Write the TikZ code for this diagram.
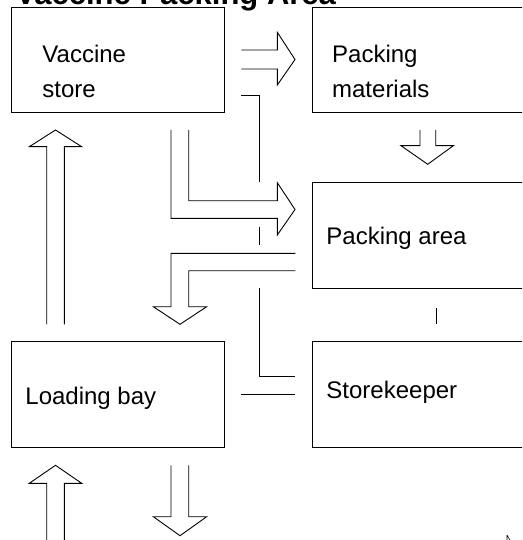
\documentclass[tikz,border=0pt]{standalone}
\usepackage{fontspec}
\setmainfont{Liberation Sans}
\begin{document}
\begin{tikzpicture}[x=1pt,y=-1pt,
  line width=0.9pt, line join=miter,
  box/.style={draw, rectangle, anchor=north west, inner sep=0pt, outer sep=0pt},
  lbl/.style={anchor=base west, inner sep=0pt, font=\fontsize{24}{28}\selectfont},
  ttl/.style={anchor=base west, inner sep=0pt, font=\fontsize{31}{35}\selectfont\bfseries}]
\useasboundingbox (0,0) rectangle (522,540);
\clip (0,0) rectangle (522,540);
% title
\node[ttl] (title) at (15,4.5) {Vaccine Packing Area};
% boxes
\node[box, minimum width=212.3pt, minimum height=105.3pt] (vs) at (11.7,7) {};
\node[box, minimum width=228pt, minimum height=105.3pt] (pm) at (312.3,7) {};
\node[box, minimum width=228pt, minimum height=105.6pt] (pa) at (312.3,182.7) {};
\node[box, minimum width=212.3pt, minimum height=105.6pt] (lb) at (11.7,341.7) {};
\node[box, minimum width=228pt, minimum height=105.6pt] (sk) at (312.3,341.7) {};
% labels
\node[lbl] (t1) at (42,62.3) {Vaccine};
\node[lbl] (t2) at (42,97.7) {store};
\node[lbl] (t3) at (331.7,62.3) {Packing};
\node[lbl] (t4) at (331.7,97.7) {materials};
\node[lbl] (t5) at (326,244) {Packing area};
\node[lbl] (t6) at (25,404) {Loading bay};
\node[lbl] (t7) at (326,398.3) {Storekeeper};
% block arrows
\draw (241.3,50) -- (277.3,50) -- (277.3,32.3) -- (295,59.5) -- (277.3,85) -- (277.3,69) -- (241.3,69);
\draw (420,130) -- (420,145.7) -- (401,145.7) -- (427.7,164.3) -- (453.3,145.7) -- (435.7,145.7) -- (435.7,130);
\draw (46.7,324.3) -- (46.7,146.7) -- (29.3,146.7) -- (55.5,130) -- (81.7,146.7) -- (64.3,146.7) -- (64.3,324.3);
\draw (171,130) -- (171,218.3) -- (277.3,218.3) -- (277.3,235) -- (295,209.5) -- (277.3,182.7) -- (277.3,200.7) -- (188.7,200.7) -- (188.7,130);
\draw (295.3,253.3) -- (171,253.3) -- (171,306.7) -- (153.3,306.7) -- (180,324.3) -- (206.7,306.7) -- (188.7,306.7) -- (188.7,270.7) -- (295.3,270.7);
\draw (46.7,545) -- (46.7,483.3) -- (29.3,483.3) -- (55.5,465.3) -- (81.7,483.3) -- (64.3,483.3) -- (64.3,545);
\draw (171,465.3) -- (171,516.7) -- (153.3,516.7) -- (180,535.7) -- (206.7,516.7) -- (188.7,516.7) -- (188.7,465.3);
% connector lines
\draw (241.3,95) -- (259.3,95) -- (259.3,182.3);
\draw (259.3,226.7) -- (259.3,245.3);
\draw (259.3,288.3) -- (259.3,376.7) -- (295.3,376.7);
\draw (241.3,394.3) -- (295.3,394.3);
\draw (436,308.3) -- (436,324.3);
% small cursor mark
\draw[line width=0.6pt] (507,535) -- (507,541) (507,535) -- (510.5,541);
\end{tikzpicture}
\end{document}
